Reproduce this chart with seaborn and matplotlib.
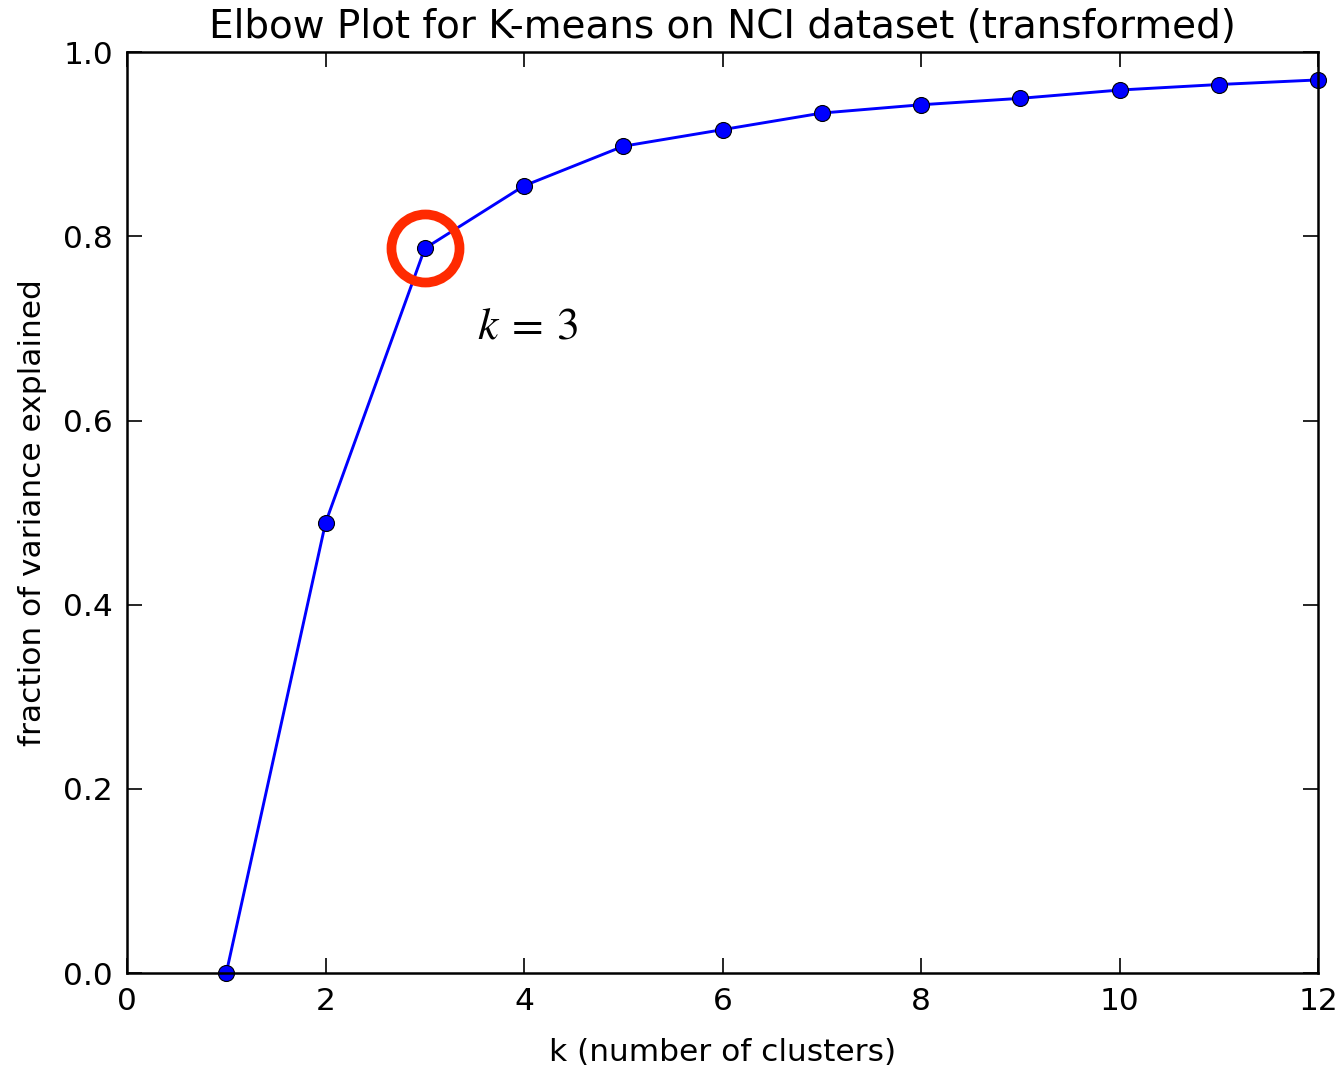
import numpy as np
import pandas as pd
import matplotlib.pyplot as plt
import seaborn as sns

k_values = [1, 2, 3, 4, 5, 6, 7, 8, 9, 10, 11, 12]
frac_explained = [0.0, 0.489, 0.787, 0.855, 0.898, 0.916, 0.934, 0.943, 0.950, 0.959, 0.965, 0.970]
elbow_k = 3

df = pd.DataFrame({"k": k_values, "frac": frac_explained})

sns.set_style("ticks", {"xtick.direction": "in", "ytick.direction": "in",
                        "text.color": "black", "axes.labelcolor": "black"})
plt.rcParams["font.family"] = ["DejaVu Sans"]
plt.rcParams["mathtext.fontset"] = "stix"

fig, ax = plt.subplots(figsize=(13.41, 10.67), dpi=100)
fig.subplots_adjust(left=0.0947, right=0.983, top=0.951, bottom=0.088)

sns.lineplot(data=df, x="k", y="frac", ax=ax, color="blue", linewidth=2.1,
             marker="o", markersize=11.5, markerfacecolor="blue",
             markeredgecolor="black", markeredgewidth=0.8, clip_on=False)

# highlight the elbow
ax.plot([elbow_k], [frac_explained[elbow_k - 1]], "o", ms=49, mfc="none",
        mec="#ff2a00", mew=7, clip_on=False)
ax.text(3.53, 0.689, r"$k\:=\:3$", fontsize=33, va="baseline", ha="left",
        color="black")

ax.set_xlim(0, 12)
ax.set_ylim(0, 1.0)
ax.set_xticks(range(0, 13, 2))
ax.set_yticks(np.arange(0, 1.01, 0.2))
ax.set_yticklabels(["0.0", "0.2", "0.4", "0.6", "0.8", "1.0"])

for s in ax.spines.values():
    s.set_visible(True)
    s.set_linewidth(1.8)
    s.set_color("black")
ax.tick_params(which="major", direction="in", length=11, width=1.2,
               top=True, right=True, labelsize=22.5, pad=10, colors="black")

ax.set_title("Elbow Plot for K-means on NCI dataset (transformed)", fontsize=28,
             pad=10, color="black")
ax.set_xlabel("k (number of clusters)", fontsize=22.5, labelpad=16)
ax.set_ylabel("fraction of variance explained", fontsize=22.5, labelpad=12)

fig.savefig("out.png", dpi=100, facecolor="white")
